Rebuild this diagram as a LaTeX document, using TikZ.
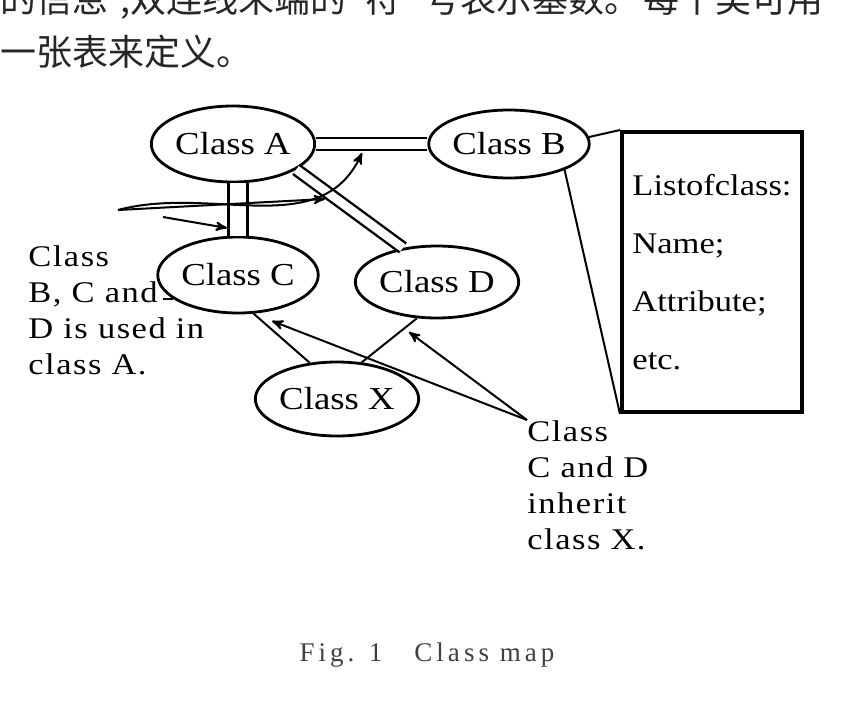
\documentclass[tikz,border=0pt]{standalone}
\usepackage{fontspec}
\usepackage{tikz}
\usetikzlibrary{calc,positioning,arrows,shapes.geometric}
\newfontfamily\cjk{Noto Sans CJK SC}
\newfontfamily\figfont[FakeStretch=1.15]{Liberation Serif}
\newfontfamily\notefont[FakeStretch=1.15,LetterSpace=5]{Liberation Serif}
\newfontfamily\capfont[LetterSpace=15]{Liberation Serif}

\begin{document}
\begin{tikzpicture}[node distance=1cm,auto,>=stealth',x=0.5pt,y=-0.5pt,
    cls/.style={draw,ellipse,line width=1.4pt,inner sep=0pt,font=\figfont\fontsize{16}{18}\selectfont},
    dbl/.style={double,line width=1.2pt},
    note/.style={align=left,inner sep=0pt,font=\notefont\fontsize{15}{18}\selectfont},
    body/.style={anchor=west,inner sep=0pt,font=\cjk\fontsize{18}{18}\selectfont,text=black!85},
    lnk/.style={line width=1pt}]
  \useasboundingbox (0,0) rectangle (842,707);
  \clip (0,0) rectangle (842,707);

  % running text above the figure
  \node[body] (txt1) at (0,1) {的信息\hspace{6pt},双连线末端的\hspace{9.5pt}符\hspace{11.5pt}号表示基数。\hspace{1.5pt}每个类可用};
  \node[body] (txt2) at (0,52) {一张表来定义。};

  \node[cls,minimum width=80pt,minimum height=38pt] (cA) at (233,144) {Class A};
  \node[cls,minimum width=79pt,minimum height=34pt,right of=cA,node distance=138pt] (cB) {Class B};
  \node[cls,minimum width=75pt,minimum height=38pt] (cC) at (238,275) {Class C};
  \node[cls,minimum width=80pt,minimum height=36pt] (cD) at (437,282) {Class D};
  \node[cls,minimum width=80pt,minimum height=37pt] (cX) at (337,399) {Class X};

  \node[draw,line width=2pt,minimum width=90pt,minimum height=140pt,align=left,
        font=\figfont\fontsize{15}{29}\selectfont] (tbl) at (712,272)
        {Listofclass:\\Name;\\Attribute;\\etc.};

  \node[note,anchor=north west] (use) at (28,245) {Class\\B, C and\\D is used in\\class A.};
  \node[note,anchor=north west] (inh) at (527,420) {Class\\C and D\\inherit\\class X.};

  %%%%

  \draw[dbl,double distance=4.8pt] (cA.east) -- (cB.west);
  \draw[dbl,double distance=8.3pt] (cA.south -| cC.north) -- (cC.north);
  \draw[dbl,double distance=4.3pt] (cA.-22) -- (cD.135);

  \draw[lnk] (cB.5) -- (tbl.north west);
  \draw[lnk] (cB.-25) -- (tbl.south west);

  \draw[lnk] (cC.-68) -- (cX.127);
  \draw[lnk] (cD.-119) -- (cX.56);

  %%%%

  \coordinate (src) at (118,210);
  \coordinate (src2) at (163,217);
  \coordinate (tipAB) at (362,153);
  \coordinate (tipAD) at (325,199);
  \coordinate (tipAC) at (227,228);
  \draw[lnk,->] (src) to[out=15,in=-115] (tipAB);
  \draw[lnk,->] (src) -- (tipAD);
  \draw[lnk,->] (src2) -- (tipAC);
  \draw[lnk] (cC.200) -- ++(-10,0);

  \coordinate (tipC) at (272,321);
  \coordinate (tipD) at (409,332);
  \draw[lnk,->] (inh.north west) -- (tipC);
  \draw[lnk,->] (inh.north west) -- (tipD);

  %%%%

  \node[font=\capfont\fontsize{13.5}{16}\selectfont,text=black!75] (cap) at (427,655) {Fig. 1\hspace{16pt}Class map};
\end{tikzpicture}
\end{document}
